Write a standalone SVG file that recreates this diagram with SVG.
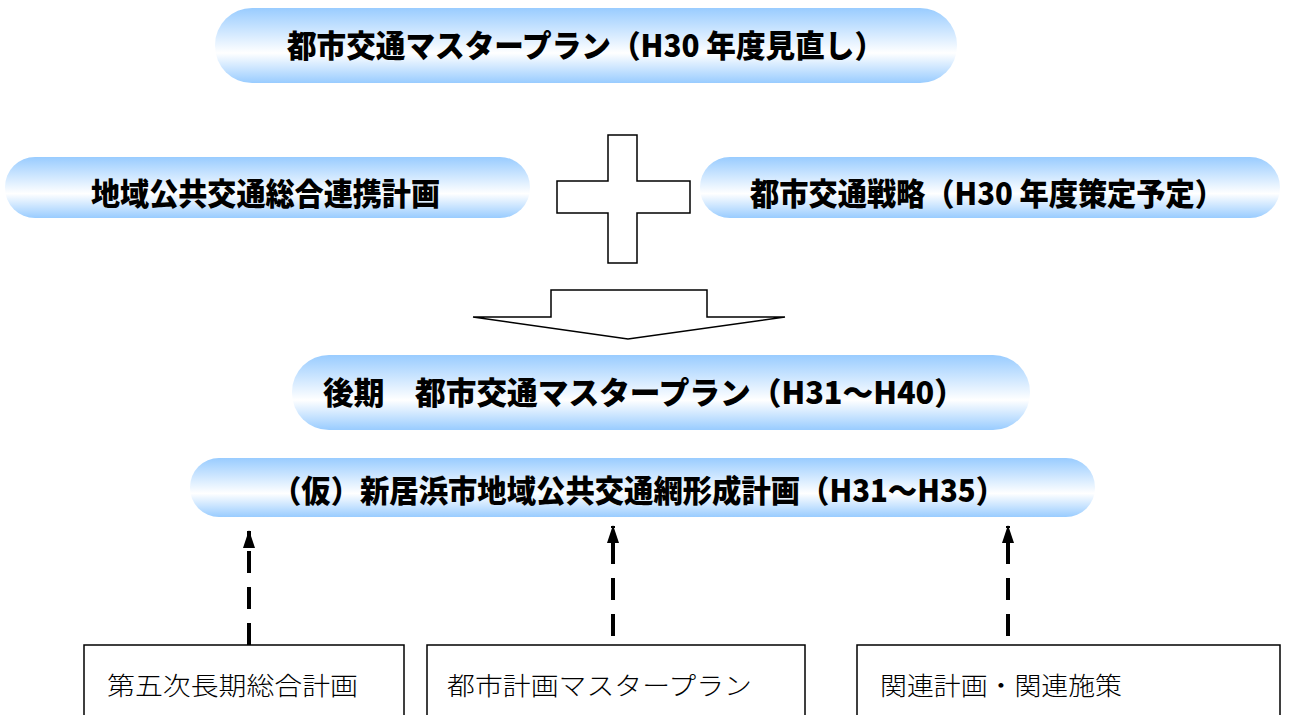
<svg xmlns="http://www.w3.org/2000/svg" width="1290" height="715" viewBox="0 0 1290 715">
<defs>
<linearGradient id="pill" x1="0" y1="0" x2="0" y2="1">
<stop offset="0" stop-color="#99ccff"/>
<stop offset="0.6" stop-color="#ffffff"/>
<stop offset="1" stop-color="#99ccff"/>
</linearGradient>
<marker id="ah" viewBox="0 0 18 12" refX="17" refY="6" markerWidth="18" markerHeight="12" markerUnits="userSpaceOnUse" orient="auto">
<path d="M0,0 L18,6 L0,12 Z" fill="#000"/>
</marker>
<style>
.pill{fill:url(#pill);}
.bt{font-family:"Noto Sans CJK JP","Noto Sans CJK SC",sans-serif;font-weight:900;font-size:31px;fill:#000;}
.lt{font-family:"Noto Sans CJK JP","Noto Sans CJK SC",sans-serif;font-weight:300;font-size:25px;fill:#000;}
.box{fill:#fff;stroke:#000;stroke-width:1.5;}
.shape{fill:#fff;stroke:#000;stroke-width:1.5;}
.dash{stroke:#000;stroke-width:4;stroke-dasharray:22 14;fill:none;}
</style>
</defs>
<rect width="1290" height="715" fill="#fff"/>
<g id="n-master">
<rect class="pill" x="215" y="8" width="742" height="75" rx="37"/>
<text class="bt" x="287" y="57" textLength="597" lengthAdjust="spacingAndGlyphs">都市交通マスタープラン（H30 年度見直し）</text>
</g>
<g id="n-renkei">
<rect class="pill" x="5" y="157" width="525" height="61" rx="30"/>
<text class="bt" x="91" y="205" textLength="349" lengthAdjust="spacingAndGlyphs">地域公共交通総合連携計画</text>
</g>
<g id="n-plus">
<path class="shape" d="M608,135 H637 V181 H690 V213 H637 V263 H608 V213 H557 V181 H608 Z"/>
</g>
<g id="n-senryaku">
<rect class="pill" x="700" y="157" width="580" height="61" rx="30"/>
<text class="bt" x="750" y="205" textLength="474" lengthAdjust="spacingAndGlyphs">都市交通戦略（H30 年度策定予定）</text>
</g>
<g id="n-down">
<path class="shape" d="M551,290 H707 V317 H785 L628,339 L473,317 H551 Z"/>
</g>
<g id="n-kouki">
<rect class="pill" x="292" y="355" width="738" height="75" rx="37"/>
<text class="bt" x="323" y="404" textLength="642" lengthAdjust="spacingAndGlyphs">後期　都市交通マスタープラン（H31～H40）</text>
</g>
<g id="n-mou">
<rect class="pill" x="190" y="458" width="905" height="59" rx="29"/>
<text class="bt" x="272" y="502" textLength="733" lengthAdjust="spacingAndGlyphs">（仮）新居浜市地域公共交通網形成計画（H31～H35）</text>
</g>
<g id="connectors">
<line class="dash" x1="249" y1="645" x2="249" y2="531" marker-end="url(#ah)"/>
<line class="dash" x1="613" y1="636" x2="613" y2="526" marker-end="url(#ah)"/>
<line class="dash" x1="1008" y1="636" x2="1008" y2="526" marker-end="url(#ah)"/>
</g>
<g id="n-box1">
<rect class="box" x="84" y="645" width="320" height="80"/>
<text class="lt" x="107" y="695" textLength="251" lengthAdjust="spacingAndGlyphs">第五次長期総合計画</text>
</g>
<g id="n-box2">
<rect class="box" x="427" y="645" width="378" height="80"/>
<text class="lt" x="447" y="695" textLength="305" lengthAdjust="spacingAndGlyphs">都市計画マスタープラン</text>
</g>
<g id="n-box3">
<rect class="box" x="857" y="645" width="423" height="80"/>
<text class="lt" x="880" y="695" textLength="242" lengthAdjust="spacingAndGlyphs">関連計画・関連施策</text>
</g>
</svg>
